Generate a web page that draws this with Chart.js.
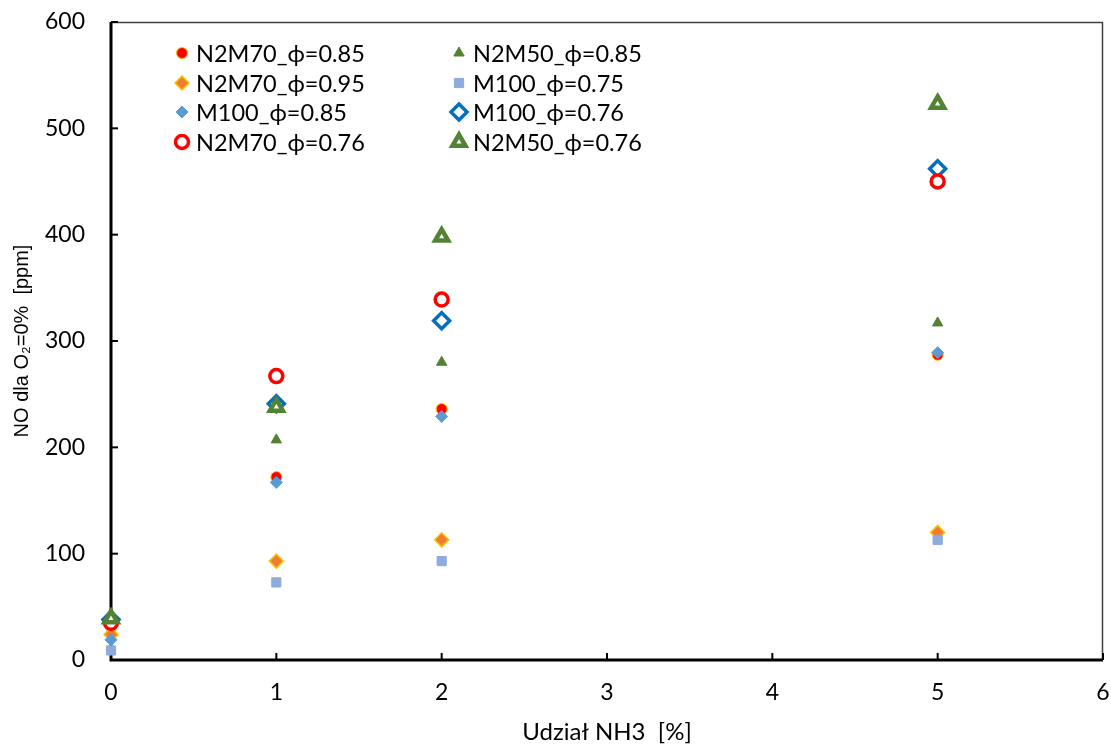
<!DOCTYPE html>
<html>
<head>
<meta charset="utf-8">
<script src="https://cdn.jsdelivr.net/npm/chart.js@4/dist/chart.umd.min.js"></script>
<style>
html,body{margin:0;padding:0;background:#fff;}
#wrap{width:1111px;height:747px;position:relative;}
</style>
</head>
<body>
<div id="wrap"><canvas id="c" width="1111" height="747"></canvas></div>
<script>
const xValues = [0, 1, 2, 5];
const seriesNames = ['N2M70_ϕ=0.85','N2M50_ϕ=0.85','N2M70_ϕ=0.95','M100_ϕ=0.75','M100_ϕ=0.85','M100_ϕ=0.76','N2M70_ϕ=0.76','N2M50_ϕ=0.76'];
const n2m70_085 = [31, 172, 236, 287];
const n2m50_085 = [36, 207, 280, 317];
const n2m70_095 = [24, 93, 113, 120];
const m100_075  = [9, 73, 93, 113];
const m100_085  = [19, 167, 229, 289];
const m100_076  = [38, 241, 319, 462];
const n2m70_076 = [35, 267, 339, 450];
const n2m50_076 = [39, 238, 398, 523];
const yTicks = [0, 100, 200, 300, 400, 500, 600];
const xTicks = [0, 1, 2, 3, 4, 5, 6];

const FONT = "Lato, 'Liberation Sans', sans-serif";
const FONT_Y = "'Liberation Sans', Arial, sans-serif";

const styles = [
  {pointStyle:'circle',   radius:5.5, bg:'#FF0000', border:'#FFC000', bw:1},
  {pointStyle:'triangle', radius:6,   bg:'#548235', border:'#548235', bw:1},
  {pointStyle:'rectRot',  radius:7,   bg:'#ED7D31', border:'#FFC000', bw:1.5},
  {pointStyle:'rect',     radius:6.5, bg:'#8FAADC', border:'#8FAADC', bw:1},
  {pointStyle:'rectRot',  radius:6,   bg:'#5B9BD5', border:'#5B9BD5', bw:1},
  {pointStyle:'rectRot',  radius:8,   bg:'#FFFFFF', border:'#0070C0', bw:3.5},
  {pointStyle:'circle',   radius:6.5, bg:'#FFFFFF', border:'#FF0000', bw:3.5},
  {pointStyle:'triangle', radius:7.5, bg:'#FFFFFF', border:'#548235', bw:4.5}
];
const allData = [n2m70_085, n2m50_085, n2m70_095, m100_075, m100_085, m100_076, n2m70_076, n2m50_076];

const datasets = allData.map((vals, i) => ({
  label: seriesNames[i],
  data: vals.map((v, j) => ({x: xValues[j], y: v})),
  pointStyle: styles[i].pointStyle,
  pointRadius: styles[i].radius,
  pointHoverRadius: styles[i].radius,
  pointBackgroundColor: styles[i].bg,
  pointBorderColor: styles[i].border,
  pointBorderWidth: styles[i].bw,
  showLine: false,
  clip: false,
  order: 8 - i
}));

const framePlugin = {
  id: 'frame',
  beforeDatasetsDraw(chart) {
    const ctx = chart.ctx;
    const a = chart.chartArea;
    ctx.save();
    ctx.strokeStyle = '#404040';
    ctx.lineWidth = 1.5;
    ctx.beginPath();
    ctx.moveTo(a.left, a.top + 0.5);
    ctx.lineTo(a.right - 0.5, a.top + 0.5);
    ctx.lineTo(a.right - 0.5, a.bottom);
    ctx.stroke();
    ctx.strokeStyle = '#000';
    ctx.lineWidth = 3;
    ctx.beginPath();
    ctx.moveTo(a.left, a.top);
    ctx.lineTo(a.left, a.bottom);
    ctx.lineTo(a.right, a.bottom);
    ctx.stroke();
    ctx.lineWidth = 2;
    const ys = chart.scales.y, xs = chart.scales.x;
    ys.ticks.forEach(t => {
      const y = ys.getPixelForValue(t.value);
      ctx.beginPath(); ctx.moveTo(a.left, y); ctx.lineTo(a.left + 7, y); ctx.stroke();
    });
    xs.ticks.forEach(t => {
      const x = xs.getPixelForValue(t.value);
      ctx.beginPath(); ctx.moveTo(x, a.bottom); ctx.lineTo(x, a.bottom - 7); ctx.stroke();
    });
    ctx.restore();
  },
  afterDraw(chart) {
    const ctx = chart.ctx;
    const a = chart.chartArea;
    ctx.save();
    ctx.font = "23.5px " + FONT;
    ctx.textBaseline = 'middle';
    ctx.textAlign = 'left';
    const colX = [a.left + 71, a.left + 348];
    const rowY = [a.top + 31, a.top + 61, a.top + 90, a.top + 120];
    seriesNames.forEach((name, i) => {
      const col = i % 2, row = Math.floor(i / 2);
      const s = styles[i];
      const mx = colX[col], my = rowY[row];
      ctx.fillStyle = s.bg;
      ctx.strokeStyle = s.border;
      ctx.lineWidth = s.bw;
      Chart.helpers.drawPoint(ctx, {pointStyle: s.pointStyle, radius: s.radius, rotation: 0, borderWidth: s.bw}, mx, my);
      ctx.fillStyle = '#000';
      ctx.fillText(name, mx + 14, my + 1);
    });
    ctx.restore();
  }
};

new Chart(document.getElementById('c'), {
  type: 'scatter',
  data: { datasets },
  options: {
    responsive: false,
    animation: false,
    devicePixelRatio: 1,
    layout: { autoPadding: false, padding: { top: 22, right: 8, left: 0, bottom: 0 } },
    plugins: {
      legend: { display: false },
      tooltip: { enabled: false }
    },
    scales: {
      x: {
        type: 'linear',
        min: 0, max: 6,
        afterBuildTicks(scale) { scale.ticks = xTicks.map(v => ({value: v})); },
        afterFit(scale) { scale.height = 87; scale.paddingLeft = 0; scale.paddingRight = 0; },
        grid: { display: false, drawTicks: false },
        border: { display: false },
        ticks: { color: '#000', font: { family: FONT, size: 23 }, padding: 19 },
        title: { display: true, text: 'Udział NH3  [%]', color: '#000', font: { family: FONT, size: 24 }, padding: { top: 0, bottom: 0 } }
      },
      y: {
        type: 'linear',
        min: 0, max: 600,
        afterBuildTicks(scale) { scale.ticks = yTicks.map(v => ({value: v})); },
        afterFit(scale) { scale.width = 111; scale.paddingTop = 0; scale.paddingBottom = 0; },
        grid: { display: false, drawTicks: false },
        border: { display: false },
        ticks: { color: '#000', font: { family: FONT, size: 23 }, padding: 26 },
        title: { display: true, text: 'NO dla O₂=0%  [ppm]', color: '#000', font: { family: FONT_Y, size: 20 }, padding: { top: 10, bottom: 0 } }
      }
    }
  },
  plugins: [framePlugin]
});
</script>
</body>
</html>
